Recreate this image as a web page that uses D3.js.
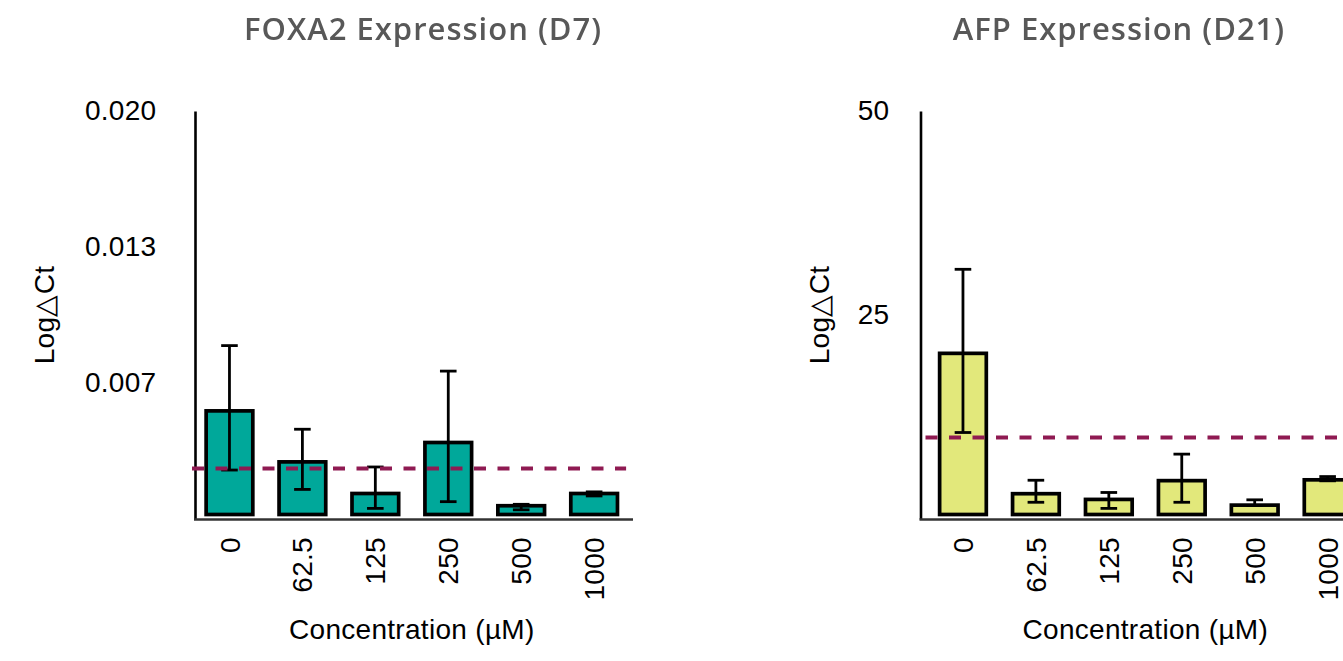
<!DOCTYPE html>
<html>
<head>
<meta charset="utf-8">
<script src="https://cdn.jsdelivr.net/npm/d3@7/dist/d3.min.js"></script>
<style>
  html, body { margin: 0; padding: 0; background: #fff; }
  svg { display: block; }
  .lbl { font-family: "Liberation Sans", Arial, sans-serif; font-size: 28px; fill: #000; letter-spacing: 0.3px; }
  .title { font-family: "Open Sans", Lato, sans-serif; font-weight: 600; font-size: 31px; fill: #585858; letter-spacing: 1px; }
</style>
</head>
<body>
<svg id="chart" width="1343" height="661"></svg>
<script>
// Concentrations tested (µM)
const categories = ["0", "62.5", "125", "250", "500", "1000"];

// FOXA2 expression at day 7
const foxa2Mean    = [0.0053, 0.0028, 0.00125, 0.00375, 0.00065, 0.00125];
const foxa2ErrUp   = [0.0032, 0.0016, 0.0013, 0.0035, 0.00007, 0.00008];
const foxa2ErrDown = [0.0029, 0.00135, 0.00073, 0.0029, 0.0002, 0.00012];
const foxa2Reference = 0.00247;
const foxa2Ticks = [0.02, 0.04 / 3, 0.02 / 3];

// AFP expression at day 21
const afpMean    = [20.3, 3.1, 2.4, 4.7, 1.7, 4.8];
const afpErrUp   = [10.3, 1.65, 0.85, 3.25, 0.65, 0.4];
const afpErrDown = [9.7, 1.05, 1.1, 2.65, 0.05, 0.12];
const afpReference = 10;
const afpTicks = [50, 25];

const panels = [
  {
    title: "FOXA2 Expression (D7)", titleX: 423,
    mean: foxa2Mean, up: foxa2ErrUp, down: foxa2ErrDown, ref: foxa2Reference,
    yMax: 0.02, ticks: foxa2Ticks, fmt: d3.format(".3f"),
    fill: "#00a89a", axisX: 195, bandStart: 193, tickPad: 38.5, yTitleX: 54
  },
  {
    title: "AFP Expression (D21)", titleX: 1119,
    mean: afpMean, up: afpErrUp, down: afpErrDown, ref: afpReference,
    yMax: 50, ticks: afpTicks, fmt: d3.format("d"),
    fill: "#e2e87b", axisX: 920.5, bandStart: 926.5, tickPad: 31, yTitleX: 829
  }
];

const svg = d3.select("#chart");
const defs = svg.append("defs");
defs.append("filter").attr("id", "soft")
  .append("feGaussianBlur").attr("stdDeviation", 0.55);

const plotTop = 111, plotZero = 519, bandWidth = 437.6, barGap = 4.5;

panels.forEach(p => {
  const g = svg.append("g");
  const y = d3.scaleLinear().domain([0, p.yMax]).range([plotZero, plotTop]);
  const x = d3.scaleBand().domain(categories)
    .range([p.bandStart, p.bandStart + bandWidth])
    .paddingInner(0.36).paddingOuter(0.18);

  // title
  g.append("text").attr("class", "title")
    .attr("x", p.titleX).attr("y", 40)
    .attr("text-anchor", "middle")
    .attr("filter", "url(#soft)")
    .text(p.title);

  // y axis
  const ya = g.append("g").attr("transform", `translate(${p.axisX},0)`)
    .call(d3.axisLeft(y).tickValues(p.ticks).tickFormat(p.fmt)
      .tickSize(0).tickPadding(p.tickPad));
  ya.select(".domain").attr("stroke", "#000").attr("stroke-width", 2.6);
  ya.selectAll("text").attr("class", "lbl").attr("font-size", null).attr("font-family", null);

  // y axis title
  g.append("text").attr("class", "lbl")
    .attr("transform", `translate(${p.yTitleX},315) rotate(-90)`)
    .attr("text-anchor", "middle")
    .text("Log△Ct");

  // bars
  const data = categories.map((c, i) => ({ c, v: p.mean[i], hi: p.mean[i] + p.up[i], lo: p.mean[i] - p.down[i] }));
  g.append("g").selectAll("rect").data(data).join("rect")
    .attr("x", d => x(d.c))
    .attr("width", x.bandwidth())
    .attr("y", d => y(d.v))
    .attr("height", d => Math.max(0, y(0) - barGap - y(d.v)))
    .attr("fill", p.fill)
    .attr("stroke", "#000")
    .attr("stroke-width", 3.7);

  // error bars
  const eb = g.append("g").attr("stroke", "#000").attr("stroke-width", 2.8);
  const capHalf = 8.3;
  data.forEach(d => {
    const cx = x(d.c) + x.bandwidth() / 2;
    eb.append("line").attr("x1", cx).attr("x2", cx).attr("y1", y(d.hi)).attr("y2", y(d.lo));
    eb.append("line").attr("x1", cx - capHalf).attr("x2", cx + capHalf).attr("y1", y(d.hi)).attr("y2", y(d.hi));
    eb.append("line").attr("x1", cx - capHalf).attr("x2", cx + capHalf).attr("y1", y(d.lo)).attr("y2", y(d.lo));
  });

  // reference line
  g.append("line")
    .attr("x1", x.range()[0] - 1).attr("x2", x.range()[1] - 4.5)
    .attr("y1", y(p.ref)).attr("y2", y(p.ref))
    .attr("stroke", "#8f1a52").attr("stroke-width", 4)
    .attr("stroke-dasharray", "12,11.5");

  // x axis
  const xa = g.append("g").attr("transform", `translate(0,${plotZero})`)
    .call(d3.axisBottom(x).tickSize(0));
  xa.select(".domain").remove();
  xa.selectAll("text").attr("class", "lbl").attr("font-size", null).attr("font-family", null)
    .attr("transform", "rotate(-90)")
    .attr("x", -18).attr("y", 0).attr("dy", "0.36em")
    .attr("text-anchor", "end");
  g.append("line")
    .attr("x1", p.axisX - 1).attr("x2", p.axisX + 438)
    .attr("y1", plotZero + 0.5).attr("y2", plotZero + 0.5)
    .attr("stroke", "#333").attr("stroke-width", 2.6);

  // x axis title
  g.append("text").attr("class", "lbl")
    .attr("x", (x.range()[0] + x.range()[1]) / 2).attr("y", 639)
    .attr("text-anchor", "middle")
    .text("Concentration (µM)");
});
</script>
</body>
</html>
